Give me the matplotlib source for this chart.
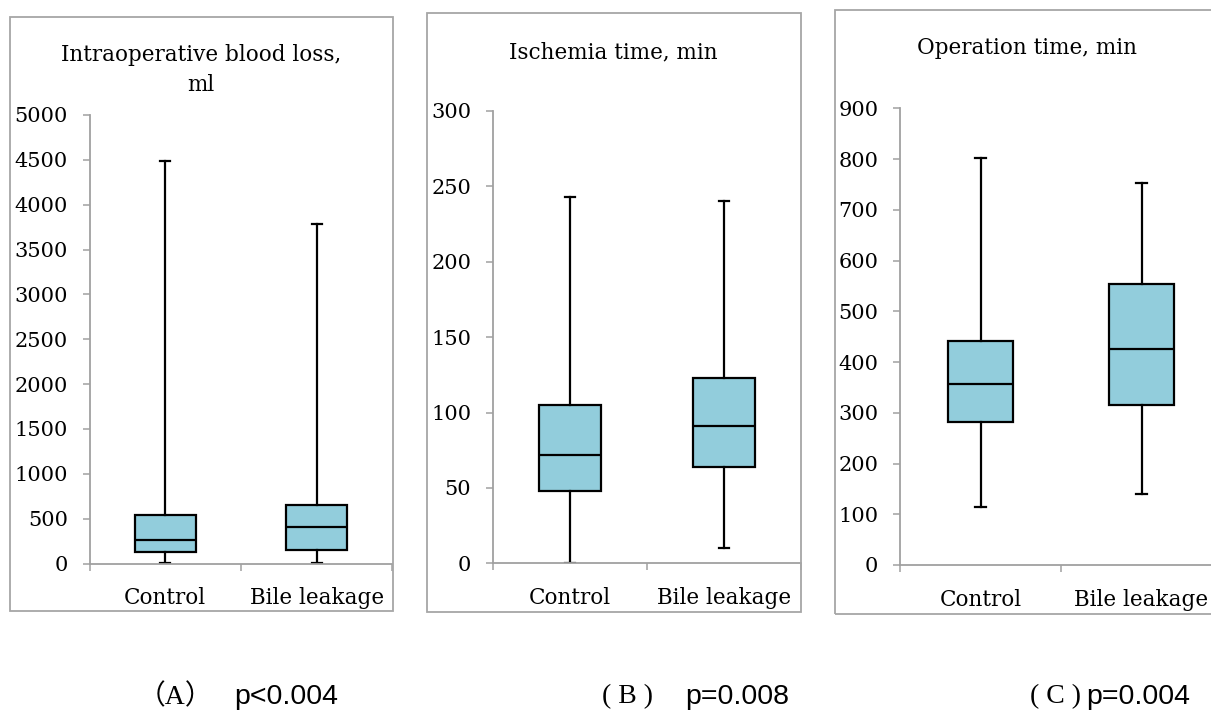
import matplotlib
matplotlib.use("Agg")
import matplotlib.pyplot as plt
from matplotlib.patches import Rectangle
from matplotlib.ticker import FixedLocator, NullFormatter, FixedFormatter

# ---------------- data (min, Q1, median, Q3, max) ----------------
categories = ["Control", "Bile leakage"]

blood_control = [10, 130, 265, 545, 4490]
blood_bile = [10, 156, 406, 652, 3780]

ischemia_control = [0.5, 48, 72, 105, 243]
ischemia_bile = [10, 64, 91, 123, 240]

operation_control = [115, 282, 356, 442, 803]
operation_bile = [140, 316, 425, 554, 752]

titles = ["Intraoperative blood loss,\nml", "Ischemia time, min", "Operation time, min"]
y_ticks_A = [0, 500, 1000, 1500, 2000, 2500, 3000, 3500, 4000, 4500, 5000]
y_ticks_B = [0, 50, 100, 150, 200, 250, 300]
y_ticks_C = [0, 100, 200, 300, 400, 500, 600, 700, 800, 900]
caption_labels = ["（A）", "( B )", "( C )"]
caption_pvalues = ["p<0.004", "p=0.008", "p=0.004"]

# ---------------- layout ----------------
W, H = 1211, 713
fig = plt.figure(figsize=(W / 100, H / 100), dpi=100)
plt.rcParams['font.family'] = ['DejaVu Serif']

BOX_COLOR = "#92CDDC"
GRAY = "#A6A6A6"
AX_GRAY = "#A0A0A0"
FS = 15


def px_axes(x0, x1, ytop, ybot):
    return fig.add_axes([x0 / W, 1 - ybot / H, (x1 - x0) / W, (ybot - ytop) / H])


def border(x0, y0, x1, y1):
    fig.add_artist(Rectangle((x0 / W, 1 - y1 / H), (x1 - x0) / W, (y1 - y0) / H,
                             transform=fig.transFigure, fill=False,
                             edgecolor=GRAY, linewidth=1.3, clip_on=False))


def make_stats(vals, label):
    lo, q1, med, q3, hi = vals
    return dict(whislo=lo, q1=q1, med=med, q3=q3, whishi=hi, fliers=[], label=label)


panels = [
    dict(data=[blood_control, blood_bile], yticks=y_ticks_A, title=titles[0],
         ax=(89.5, 392.5, 115, 563.5), border=(10, 17.3, 392.7, 611),
         title_xy=(201, 70), label_x=(175, 234)),
    dict(data=[ischemia_control, ischemia_bile], yticks=y_ticks_B, title=titles[1],
         ax=(492.7, 801, 111, 563.3), border=(426.7, 13.3, 801, 611.5),
         title_xy=(613.5, 52), label_x=(627, 685)),
    dict(data=[operation_control, operation_bile], yticks=y_ticks_C, title=titles[2],
         ax=(900, 1222, 108.3, 565), border=(835, 10, 1240, 614.3),
         title_xy=(1027, 48), label_x=(1056, 1086)),
]

for p in panels:
    border(*p["border"])
    ax = px_axes(*p["ax"])
    stats = [make_stats(v, c) for v, c in zip(p["data"], categories)]
    ax.bxp(stats, positions=[1, 2], widths=0.4, capwidths=0.065,
           showfliers=False, patch_artist=True,
           boxprops=dict(facecolor=BOX_COLOR, edgecolor="black", linewidth=1.6),
           medianprops=dict(color="black", linewidth=1.6),
           whiskerprops=dict(color="black", linewidth=1.6),
           capprops=dict(color="black", linewidth=1.6))
    ax.set_xlim(0.5, 2.5)
    ax.set_ylim(p["yticks"][0], p["yticks"][-1])
    ax.set_yticks(p["yticks"])
    ax.set_yticklabels([str(t) for t in p["yticks"]], fontsize=FS)
    ax.xaxis.set_major_locator(FixedLocator([0.5, 1.5, 2.5]))
    ax.xaxis.set_major_formatter(NullFormatter())
    ax.xaxis.set_minor_locator(FixedLocator([1, 2]))
    ax.xaxis.set_minor_formatter(FixedFormatter(categories))
    ax.tick_params(axis="x", which="major", direction="out", length=5,
                   width=1.1, color=AX_GRAY)
    ax.tick_params(axis="x", which="minor", length=0, pad=17, labelsize=FS + 0.5)
    ax.tick_params(axis="y", direction="out", length=5, width=1.1,
                   color=AX_GRAY, pad=10.5)
    for s in ["top", "right"]:
        ax.spines[s].set_visible(False)
    for s in ["left", "bottom"]:
        ax.spines[s].set_color(AX_GRAY)
        ax.spines[s].set_linewidth(1.3)
    ax.patch.set_alpha(0)
    tx, ty = p["title_xy"]
    fig.text(tx / W, 1 - ty / H, p["title"], ha="center", va="center",
             fontsize=FS + 0.5, linespacing=1.45)

CAP_Y = 697
for p, lab, pv in zip(panels, caption_labels, caption_pvalues):
    lx, px = p["label_x"]
    fig.text(lx / W, 1 - CAP_Y / H, lab, ha="center", va="center", fontsize=20,
             family=["Liberation Serif", "Noto Sans CJK JP"])
    fig.text(px / W, 1 - CAP_Y / H, pv, ha="left", va="center", fontsize=20.5,
             family=["Liberation Sans"])

fig.savefig("out.png", dpi=100)
